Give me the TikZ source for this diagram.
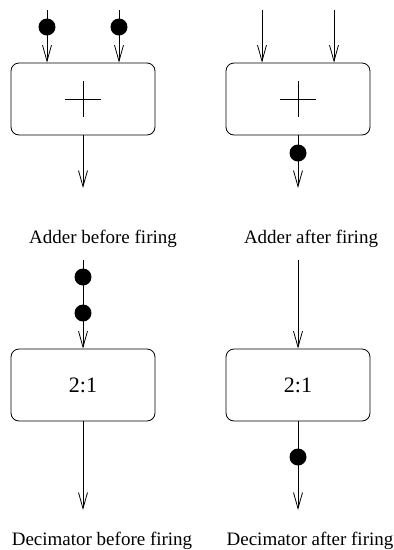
\documentclass[tikz,border=0pt]{standalone}
\usepackage{fontspec}
\setmainfont{Liberation Serif}
\usetikzlibrary{arrows.meta}

\begin{document}
\begin{tikzpicture}[x=1pt,y=-1pt,line width=0.8pt,
    actor/.style={draw,rounded corners=8pt,minimum width=144pt,minimum height=72pt,
      inner sep=0pt,font=\fontsize{22}{26}\selectfont},
    token/.style={circle,fill=black,inner sep=0pt,minimum size=17pt},
    flow/.style={-{Straight Barb[length=16pt,width=9pt,line width=0.8pt]}},
    caption/.style={anchor=base,inner sep=0pt,font=\fontsize{19}{22}\selectfont}]
    \useasboundingbox (0,0) rectangle (394,550);
    % adder, before and after firing
    \begin{scope}
      \node[actor] (addB) at (83,99) {};
      \draw (addB.center) ++(-18,0) -- ++(36,0);
      \draw (addB.center) ++(0,-18) -- ++(0,36);
      \coordinate (inB1) at (47,10);
      \coordinate (inB2) at (119,10);
      \coordinate (outB) at (83,188);
      \draw[flow] (inB1) -- (inB1 |- addB.north);
      \draw[flow] (inB2) -- (inB2 |- addB.north);
      \draw[flow] (addB) -- (outB);
      \node[token] (tokB1) at (47,27) {};
      \node[token] (tokB2) at (119,27) {};
      \node[caption] (capB) at (103,243) {Adder before firing};
    \end{scope}
    \begin{scope}[shift={(215,0)}]
      \node[actor] (addA) at (83,99) {};
      \draw (addA.center) ++(-18,0) -- ++(36,0);
      \draw (addA.center) ++(0,-18) -- ++(0,36);
      \coordinate (inA1) at (47,10);
      \coordinate (inA2) at (119,10);
      \coordinate (outA) at (83,188);
      \draw[flow] (inA1) -- (inA1 |- addA.north);
      \draw[flow] (inA2) -- (inA2 |- addA.north);
      \draw[flow] (addA) -- (outA);
      \node[token] (tokA) at (83,153) {};
      \node[caption] (capA) at (96,243) {Adder after firing};
    \end{scope}
    % decimator, before and after firing
    \begin{scope}
      \node[actor] (decB) at (83,385) {2:1};
      \coordinate (dinB) at (83,260);
      \coordinate (doutB) at (83,510);
      \draw[flow] (dinB) -- (decB);
      \draw[flow] (decB) -- (doutB);
      \node[token] (dtokB1) at (83,277) {};
      \node[token] (dtokB2) at (83,313) {};
      \node[caption] (dcapB) at (102,545) {Decimator before firing};
    \end{scope}
    \begin{scope}[shift={(215,0)}]
      \node[actor] (decA) at (83,385) {2:1};
      \coordinate (dinA) at (83,260);
      \coordinate (doutA) at (83,510);
      \draw[flow] (dinA) -- (decA);
      \draw[flow] (decA) -- (doutA);
      \node[token] (dtokA) at (83,457) {};
      \node[caption] (dcapA) at (95,545) {Decimator after firing};
    \end{scope}
\end{tikzpicture}
\end{document}
